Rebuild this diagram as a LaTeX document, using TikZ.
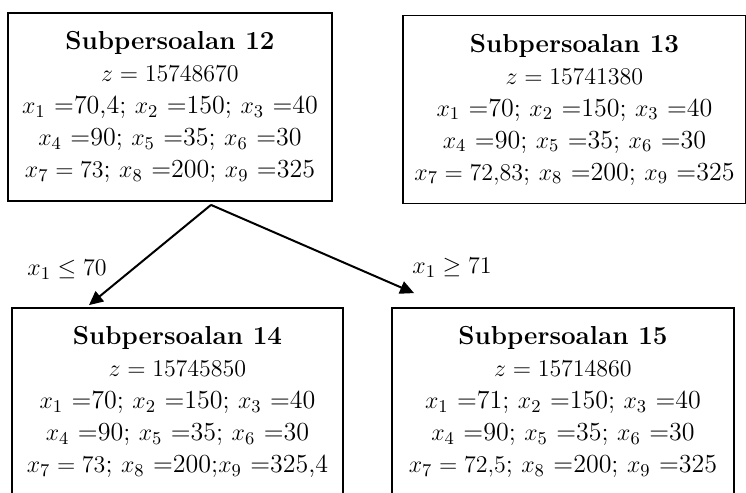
\documentclass[tikz,border=0pt]{standalone}
\usetikzlibrary{arrows.meta,calc}
\begin{document}
\begin{tikzpicture}[x=0.5pt,y=-0.5pt,
    sub/.style={draw, line width=0.9pt, align=center, inner sep=0pt, minimum height=94pt, font=\fontsize{13}{16}\selectfont},
    branch/.style={-{Triangle[length=7pt,width=6.5pt]}, line width=1pt},
    cond/.style={font=\fontsize{13}{16}\selectfont}
  ]
    \useasboundingbox (0,0) rectangle (746,493);
    \clip (0,0) rectangle (746,493);

    % Subproblems
    \node[sub, minimum width=162pt] (s12) at (170,107) {\textbf{Subpersoalan 12}\\$z = 15748670$\\$x_1$ =70,4; $x_2$ =150; $x_3$ =40\\$x_4$ =90; $x_5$ =35; $x_6$ =30\\$x_7 = 73$; $x_8$ =200; $x_9$ =325};
    \node[sub, minimum width=171.5pt] (s13) at (574.5,109.5) {\textbf{Subpersoalan 13}\\$z = 15741380$\\$x_1$ =70; $x_2$ =150; $x_3$ =40\\$x_4$ =90; $x_5$ =35; $x_6$ =30\\$x_7 = 72{,}83$; $x_8$ =200; $x_9$ =325};
    \node[sub, minimum width=165.5pt] (s14) at (177.5,402) {\textbf{Subpersoalan 14}\\$z = 15745850$\\$x_1$ =70; $x_2$ =150; $x_3$ =40\\$x_4$ =90; $x_5$ =35; $x_6$ =30\\$x_7 = 73$; $x_8$ =200;$x_9$ =325,4};
    \node[sub, minimum width=171pt] (s15) at (563,402) {\textbf{Subpersoalan 15}\\$z = 15714860$\\$x_1$ =71; $x_2$ =150; $x_3$ =40\\$x_4$ =90; $x_5$ =35; $x_6$ =30\\$x_7 = 72{,}5$; $x_8$ =200; $x_9$ =325};

    % Branching
    \coordinate (split) at ($(s12.south)+(41,3)$);
    \coordinate (tipL) at ($(s14.north)+(-88.5,-2)$);
    \coordinate (tipR) at ($(s15.north west)+(23,-14)$);
    \draw[branch] (split) -- (tipL);
    \draw[branch] (split) -- (tipR);

    % Conditions
    \node[cond] (le) at (67,270) {$x_1 \leq 70$};
    \node[cond] (ge) at (452,268) {$x_1 \geq 71$};
  \end{tikzpicture}
\end{document}
